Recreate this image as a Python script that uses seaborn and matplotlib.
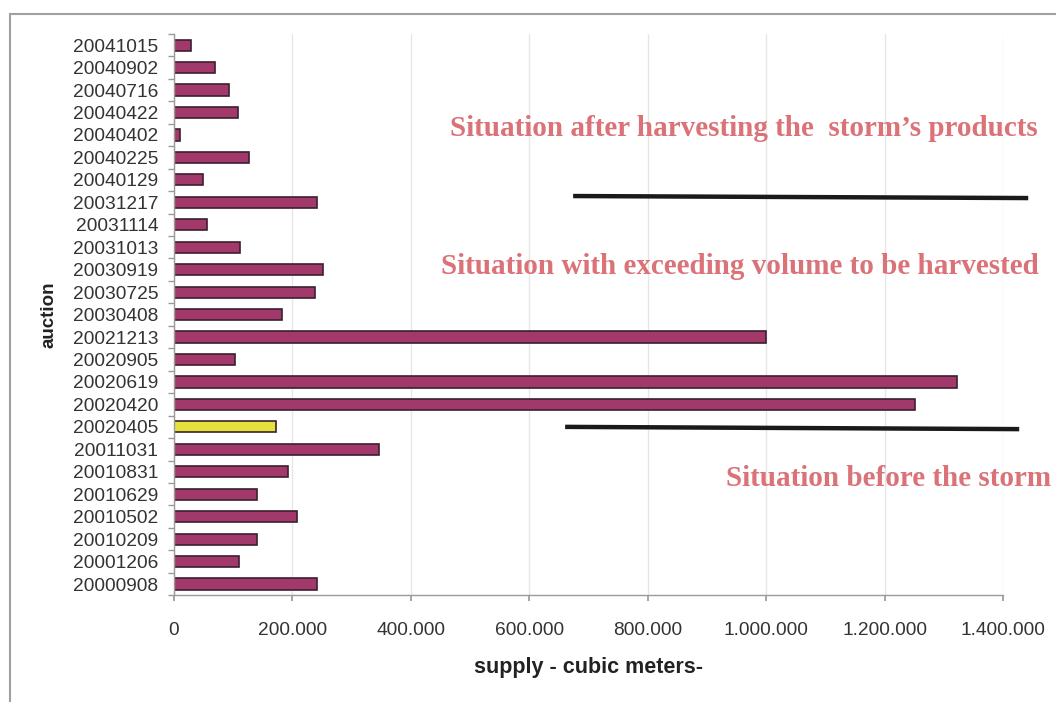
import matplotlib
matplotlib.use("Agg")
import matplotlib.pyplot as plt
import matplotlib.patches as mpatches
from matplotlib.ticker import FuncFormatter, MultipleLocator, FixedLocator
import seaborn as sns
import pandas as pd

# Auction dates (top to bottom) and offered volume in cubic meters
auctions = [
    "20041015", "20040902", "20040716", "20040422", "20040402", "20040225",
    "20040129", "20031217", "20031114", "20031013", "20030919", "20030725",
    "20030408", "20021213", "20020905", "20020619", "20020420", "20020405",
    "20011031", "20010831", "20010629", "20010502", "20010209", "20001206",
    "20000908",
]
supply = [
    29000, 69000, 93000, 108000, 10000, 127000,
    49000, 241000, 56000, 111000, 251000, 238000,
    182000, 1000000, 103000, 1322000, 1252000, 173000,
    346000, 192000, 140000, 208000, 140000, 109000,
    241000,
]
storm_auction = "20020405"

# Period annotations: text, x start, y position (category index)
notes = [
    ("Situation after harvesting the  storm\u2019s products", 466000, 3.72),
    ("Situation with exceeding volume to be harvested", 451000, 9.85),
    ("Situation before the storm", 933000, 19.3),
]
# Separator lines between periods: (x0, x1, y0, y1)
separators = [
    (674000, 1442600, 6.72, 6.81),
    (660500, 1427400, 17.0, 17.1),
]

BAR = "#A3386B"
HIGHLIGHT = "#E4E03C"
EDGE = "#3B2030"
NOTE = "#DB7278"

sns.set_theme(style="white")
plt.rcParams["font.family"] = ["Liberation Sans", "DejaVu Sans"]

df = pd.DataFrame({"auction": auctions, "supply": supply})
df["kind"] = ["storm" if a == storm_auction else "normal" for a in auctions]

fig = plt.figure(figsize=(10.56, 7.02), dpi=100)

# Outer frame around the chart
fig.patches.append(mpatches.Rectangle(
    (0.0095, -0.05), 1.2, 1.03, transform=fig.transFigure,
    fill=False, edgecolor="#A0A0A0", linewidth=1.5, zorder=-1))

ax = fig.add_axes([0.1648, 0.152, 0.785, 0.7997])
ax.patch.set_alpha(0)

sns.barplot(
    data=df, y="auction", x="supply", hue="kind", orient="h",
    order=auctions, palette={"normal": BAR, "storm": HIGHLIGHT},
    width=0.5, edgecolor=EDGE, linewidth=1.2, legend=False, ax=ax,
    saturation=1,
)

ax.set_xlim(0, 1400000)
ax.xaxis.set_major_locator(MultipleLocator(200000))
ax.xaxis.set_major_formatter(FuncFormatter(lambda v, p: f"{int(v):,}".replace(",", ".")))
ax.grid(axis="x", color="#E6E6E6", linewidth=1)
ax.set_axisbelow(True)

for side in ("top", "right"):
    ax.spines[side].set_visible(False)
for side in ("left", "bottom"):
    ax.spines[side].set_color("#9A9A9A")
    ax.spines[side].set_linewidth(1.0)

# Category ticks sit between the bars
ax.yaxis.set_minor_locator(FixedLocator([i + 0.5 for i in range(-1, len(auctions))]))
ax.set_ylim(len(auctions) - 0.5, -0.5)
ax.tick_params(axis="y", which="major", length=0, pad=11.5, labelsize=13.8, labelcolor="#333333")
ax.tick_params(axis="y", which="minor", left=True, length=4, color="#9A9A9A", width=1)
ax.tick_params(axis="x", which="major", bottom=True, length=4, color="#9A9A9A",
               pad=15, labelsize=13.8, labelcolor="#333333")

ax.set_ylabel("auction", fontsize=13.5, fontweight="bold", color="#222222", labelpad=10.5)
ax.set_xlabel("supply - cubic meters-", fontsize=15.5, fontweight="bold", color="#222222", labelpad=13)

for text, x, y in notes:
    ax.text(x, y, text, fontsize=21, fontweight="bold", color=NOTE,
            family=["Liberation Serif", "DejaVu Serif"], va="center", ha="left",
            clip_on=False)

for x0, x1, y0, y1 in separators:
    ax.plot([x0, x1], [y0, y1], color="#1A1A1A", linewidth=3.2, clip_on=False,
            solid_capstyle="butt")

fig.savefig("out.png", dpi=100)
